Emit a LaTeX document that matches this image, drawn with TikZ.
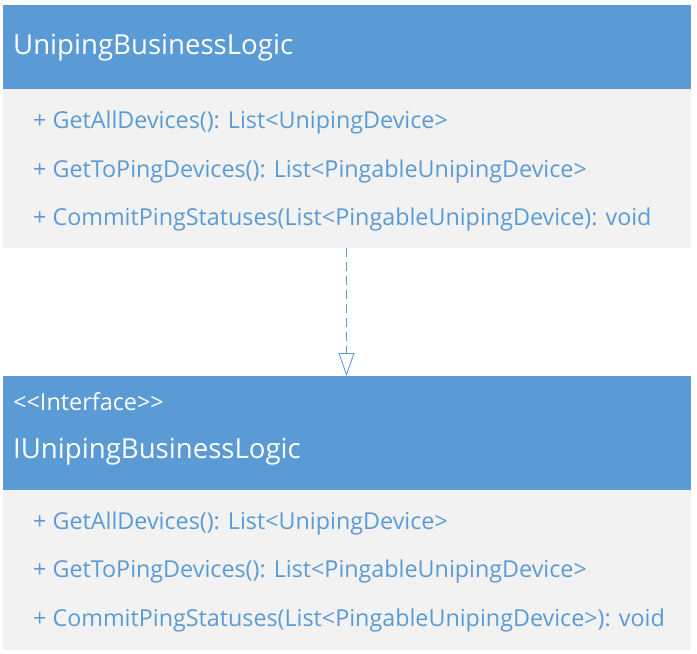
\documentclass[tikz,border=0pt]{standalone}
\usepackage{fontspec}
\setmainfont{Open Sans}
\usetikzlibrary{arrows.meta}
\definecolor{hdrblue}{HTML}{5B9BD5}
\definecolor{bodygray}{HTML}{F2F2F2}
\tikzset{
  hdr/.style={fill=hdrblue, draw=none, inner sep=0pt, anchor=north west, minimum width=688bp},
  bodybox/.style={fill=bodygray, draw=none, inner sep=0pt, anchor=north west, minimum width=688bp},
  titletxt/.style={anchor=base west, inner sep=0pt, text=white, font=\fontsize{27.7}{32}\selectfont},
  stereotxt/.style={anchor=base west, inner sep=0pt, text=white, font=\fontsize{23.5}{28}\selectfont},
  memtxt/.style={anchor=base west, inner sep=0pt, text=hdrblue, font=\fontsize{23.4}{28}\selectfont},
  dep/.style={draw=hdrblue, line width=0.9bp, dash pattern=on 9bp off 5bp, -{Triangle[open, length=23bp, width=16bp, line width=0.9bp]}}
}
\begin{document}
\begin{tikzpicture}[x=1bp, y=-1bp]
\useasboundingbox (0,0) rectangle (697,654);
% top class
\node[hdr, minimum height=84bp] (h1) at (3,5) {};
\node[bodybox, minimum height=159bp] (b1) at (3,89) {};
\node[titletxt] (t1) at (13,55) {UnipingBusinessLogic};
\node[memtxt] (m11) at (33,129) {+ GetAllDevices(): List<UnipingDevice>};
\node[memtxt] (m12) at (33,177) {+ GetToPingDevices(): List<PingableUnipingDevice>};
\node[memtxt] (m13) at (33,225) {+ CommitPingStatuses(List<PingableUnipingDevice): void};
% bottom interface
\node[hdr, minimum height=114bp] (h2) at (3,376) {};
\node[bodybox, minimum height=160bp] (b2) at (3,490) {};
\node[stereotxt] (s2) at (13,410) {<\kern0pt<Interface>\kern0pt>};
\node[titletxt] (t2) at (13,458) {IUnipingBusinessLogic};
\node[memtxt] (m21) at (33,529) {+ GetAllDevices(): List<UnipingDevice>};
\node[memtxt] (m22) at (33,577) {+ GetToPingDevices(): List<PingableUnipingDevice>};
\node[memtxt] (m23) at (33,626) {+ CommitPingStatuses(List<PingableUnipingDevice>): void};
% dependency
\coordinate (a1) at (346.5,248);
\draw[dep] (a1) -- (a1 |- h2.north);
\end{tikzpicture}
\end{document}
